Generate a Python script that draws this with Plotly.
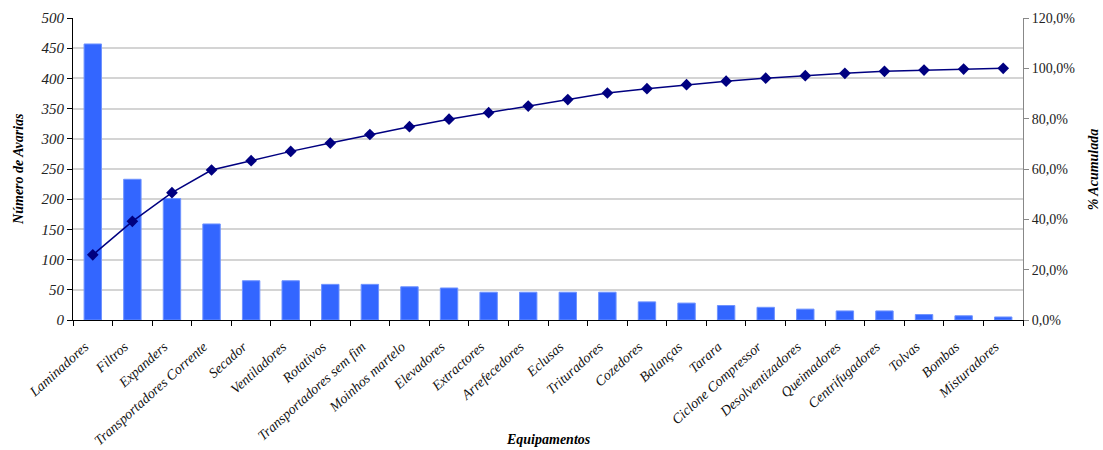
import plotly.graph_objects as go

equipamentos = [
    "Laminadores", "Filtros", "Expanders", "Transportadores Corrente", "Secador",
    "Ventiladores", "Rotativos", "Transportadores sem fim", "Moinhos martelo",
    "Elevadores", "Extractores", "Arrefecedores", "Eclusas", "Trituradores",
    "Cozedores", "Balanças", "Tarara", "Ciclone Compressor", "Desolventizadores",
    "Queimadores", "Centrifugadores", "Tolvas", "Bombas", "Misturadores",
]
avarias = [457, 233, 201, 159, 65, 65, 59, 59, 55, 53, 46, 46, 46, 46,
           30, 28, 24, 21, 18, 15, 15, 9, 7, 5]
acumulada = [25.9, 39.2, 50.6, 59.6, 63.3, 67.0, 70.3, 73.7, 76.8, 79.8, 82.4, 85.0,
             87.6, 90.2, 91.9, 93.5, 94.9, 96.1, 97.1, 98.0, 98.8, 99.3, 99.7, 100.0]
left_ticks = list(range(0, 501, 50))
right_ticks = [0, 20, 40, 60, 80, 100, 120]
right_labels = ["0,0%", "20,0%", "40,0%", "60,0%", "80,0%", "100,0%", "120,0%"]

SERIF = "Liberation Serif"

fig = go.Figure()
fig.add_trace(go.Bar(
    x=equipamentos, y=avarias, width=0.44,
    marker=dict(color="#3366FF", line=dict(color="#6F93FF", width=1)),
    yaxis="y", showlegend=False,
))
fig.add_trace(go.Scatter(
    x=equipamentos, y=acumulada, mode="lines+markers",
    line=dict(color="#000080", width=1.5),
    marker=dict(symbol="diamond", size=9, color="#000080"),
    yaxis="y2", showlegend=False,
))

fig.update_layout(
    width=1103, height=450,
    margin=dict(l=73, r=80, t=18, b=130),
    paper_bgcolor="white", plot_bgcolor="white",
    font=dict(family=SERIF, color="#222222"),
    xaxis=dict(
        type="category", range=[-0.5, 23.5], automargin=False,
        showline=True, linecolor="black", linewidth=1,
        ticks="outside", ticklen=5, tickcolor="black", tickson="boundaries",
        tickangle=-42, ticklabelstandoff=12, ticklabelshift=-8,
        tickfont=dict(family=SERIF, size=14, style="italic", color="#111111"),
        showgrid=False,
    ),
    yaxis=dict(
        range=[0, 500], tickvals=left_ticks, automargin=False,
        showline=True, linecolor="black", linewidth=1,
        ticks="outside", ticklen=5, tickcolor="black",
        tickfont=dict(family=SERIF, size=15, style="italic", color="#222222"),
        showgrid=True, gridcolor="#D4D4D4", gridwidth=1.5,
        zeroline=False,
    ),
    yaxis2=dict(
        range=[0, 120], tickvals=right_ticks, ticktext=right_labels,
        overlaying="y", side="right", automargin=False,
        showline=True, linecolor="#888888", linewidth=1,
        ticks="outside", ticklen=5, tickcolor="#888888",
        tickfont=dict(family=SERIF, size=14, color="#222222"),
        showgrid=False, zeroline=False,
    ),
    annotations=[
        dict(text="<b><i>Equipamentos</i></b>", xref="paper", yref="paper",
             x=0.5, y=-0.397, xanchor="center", yanchor="middle", showarrow=False,
             font=dict(family=SERIF, size=14, color="black")),
        dict(text="<b><i>Número de Avarias</i></b>", xref="paper", yref="paper",
             x=-0.058, y=0.5, xanchor="center", yanchor="middle", showarrow=False,
             textangle=-90, font=dict(family=SERIF, size=14, color="black")),
        dict(text="<b><i>% Acumulada</i></b>", xref="paper", yref="paper",
             x=1.074, y=0.5, xanchor="center", yanchor="middle", showarrow=False,
             textangle=-90, font=dict(family=SERIF, size=14, color="black")),
    ],
)

fig.write_html("out.html")
